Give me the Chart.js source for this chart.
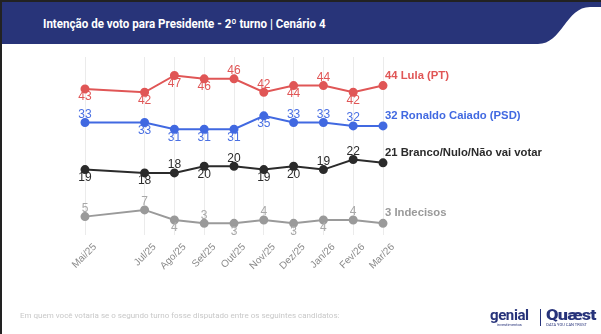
<!DOCTYPE html>
<html lang="pt">
<head>
    <meta charset="UTF-8">
    <title>Intenção de voto - 2º turno</title>
    <script src="https://cdn.jsdelivr.net/npm/chart.js"></script>
    <style>
        html, body { margin: 0; padding: 0; }
        body { width: 601px; height: 334px; position: relative; overflow: hidden; background: #fff; font-family: "Liberation Sans", Arial, sans-serif; }
        #frame { position: absolute; inset: 0; border-top: 2px solid #222; border-left: 2px solid #222; pointer-events: none; z-index: 5; }
        #header { position: absolute; left: 0; top: 0; width: 601px; height: 44px; background: #283479; }
        #header svg { position: absolute; left: 0; top: 0; }
        #title { position: absolute; left: 43px; top: 16px; color: #fff; font: bold 13px "Roboto", sans-serif; white-space: nowrap; transform: scaleX(0.89); transform-origin: left center; }
        #chartBox { position: absolute; left: 0; top: 0; width: 601px; height: 334px; }
        #note { position: absolute; left: 20px; top: 311px; color: #c8c8c8; font: 8px "Roboto", sans-serif; white-space: nowrap; }
        #genial { position: absolute; left: 490px; top: 309px; color: #27337a; display: flex; flex-direction: column; align-items: center; }
        #quaest { position: absolute; left: 546px; top: 309px; color: #27337a; display: flex; flex-direction: column; align-items: center; }
        #sep { position: absolute; left: 540px; top: 309px; width: 1px; height: 17px; background: #27337a; }
        .big { font: bold 15px "Roboto", sans-serif; line-height: 13px; letter-spacing: -0.4px; }
        .heavy { font-weight: 900; letter-spacing: -0.6px; display: inline-block; transform: scaleX(1.2); transform-origin: left center; }
        .small { font: 4px "Roboto", sans-serif; line-height: 5px; }
    </style>
</head>
<body>
    <div id="chartBox"><canvas id="chart"></canvas></div>
    <div id="header">
        <svg width="601" height="44"><path d="M 538 44 C 562 44, 566 7, 590 7 L 601 7 L 601 44 Z" fill="#fff"/></svg>
        <div id="title">Intenção de voto para Presidente - 2º turno | Cenário 4</div>
    </div>
    <div id="note">Em quem você votaria se o segundo turno fosse disputado entre os seguintes candidatos:</div>
    <div id="genial"><span class="big">genial</span><span class="small">investimentos</span></div>
    <div id="sep"></div>
    <div id="quaest"><span class="big heavy">Quæst</span><span class="small">DATA YOU CAN TRUST</span></div>
    <div id="frame"></div>

    <script>
        // survey months (month number counted from Jan/25 = 1)
        const monthLabels = ['Mai/25', 'Jul/25', 'Ago/25', 'Set/25', 'Out/25', 'Nov/25', 'Dez/25', 'Jan/26', 'Fev/26', 'Mar/26'];
        const monthNums = [5, 7, 8, 9, 10, 11, 12, 13, 14, 15];

        const lula = [43, 42, 47, 46, 46, 42, 44, 44, 42, 44];
        const caiado = [33, 33, 31, 31, 31, 35, 33, 33, 32, 32];
        const branco = [19, 18, 18, 20, 20, 19, 20, 19, 22, 21];
        const indecisos = [5, 7, 4, 3, 3, 4, 3, 4, 4, 3];

        const seriesNames = ['Lula (PT)', 'Ronaldo Caiado (PSD)', 'Branco/Nulo/Não vai votar', 'Indecisos'];

        // where each value label sits: 1 = above the point, -1 = below
        const lulaSide = [-1, -1, -1, -1, 1, 1, -1, 1, -1];
        const caiadoSide = [1, -1, -1, -1, -1, -1, 1, 1, 1];
        const brancoSide = [-1, -1, 1, -1, 1, -1, -1, 1, 1];
        const indecisosSide = [1, 1, -1, 1, -1, 1, -1, -1, 1];

        const colors = ['#e05656', '#4169e1', '#2b2b2b', '#9a9a9a'];
        const labelColors = ['#e05656', '#4a70e3', '#2b2b2b', '#a8a8a8'];
        const sides = [lulaSide, caiadoSide, brancoSide, indecisosSide];

        const toPoints = arr => arr.map((v, i) => ({ x: monthNums[i], y: v }));

        const valueLabels = {
            id: 'valueLabels',
            afterDatasetsDraw(chart) {
                const ctx = chart.ctx;
                ctx.save();
                chart.data.datasets.forEach((ds, di) => {
                    const meta = chart.getDatasetMeta(di);
                    const last = meta.data.length - 1;
                    meta.data.forEach((pt, i) => {
                        const val = ds.data[i].y;
                        if (i === last) {
                            ctx.font = 'bold 11.3px "Liberation Sans", Arial, sans-serif';
                            ctx.fillStyle = colors[di];
                            ctx.textAlign = 'left';
                            ctx.textBaseline = 'middle';
                            ctx.fillText(val + ' ' + seriesNames[di], pt.x + 2, pt.y - 10);
                            return;
                        }
                        ctx.font = '12px "Liberation Sans", Arial, sans-serif';
                        ctx.fillStyle = labelColors[di];
                        ctx.textAlign = 'center';
                        ctx.textBaseline = 'middle';
                        ctx.fillText(val, pt.x, pt.y - 8 * sides[di][i]);
                    });
                });
                ctx.restore();
            }
        };

        const makeSet = (data, i) => ({
            data: toPoints(data),
            borderColor: colors[i],
            backgroundColor: colors[i],
            borderWidth: 2,
            pointRadius: 3.5,
            pointHoverRadius: 3.5,
            tension: 0,
            clip: false
        });

        new Chart(document.getElementById('chart'), {
            type: 'line',
            data: {
                datasets: [makeSet(lula, 0), makeSet(caiado, 1), makeSet(branco, 2), makeSet(indecisos, 3)]
            },
            options: {
                responsive: true,
                maintainAspectRatio: false,
                animation: false,
                layout: { padding: { left: 85, right: 218, top: 57, bottom: 56 } },
                plugins: { legend: { display: false }, tooltip: { enabled: false } },
                scales: {
                    x: {
                        type: 'linear',
                        min: 5,
                        max: 15,
                        afterBuildTicks: scale => { scale.ticks = monthNums.map(v => ({ value: v })); },
                        ticks: {
                            autoSkip: false,
                            minRotation: 45,
                            maxRotation: 45,
                            padding: 6,
                            labelOffset: 10,
                            color: '#8a8a8a',
                            font: { family: '"Liberation Sans", Arial, sans-serif', size: 10 },
                            callback: v => monthLabels[monthNums.indexOf(v)]
                        },
                        grid: { color: '#ebebeb', lineWidth: 1, drawTicks: false },
                        border: { display: false }
                    },
                    y: {
                        display: false,
                        min: -0.5,
                        max: 52.5
                    }
                }
            },
            plugins: [valueLabels]
        });
    </script>
</body>
</html>
